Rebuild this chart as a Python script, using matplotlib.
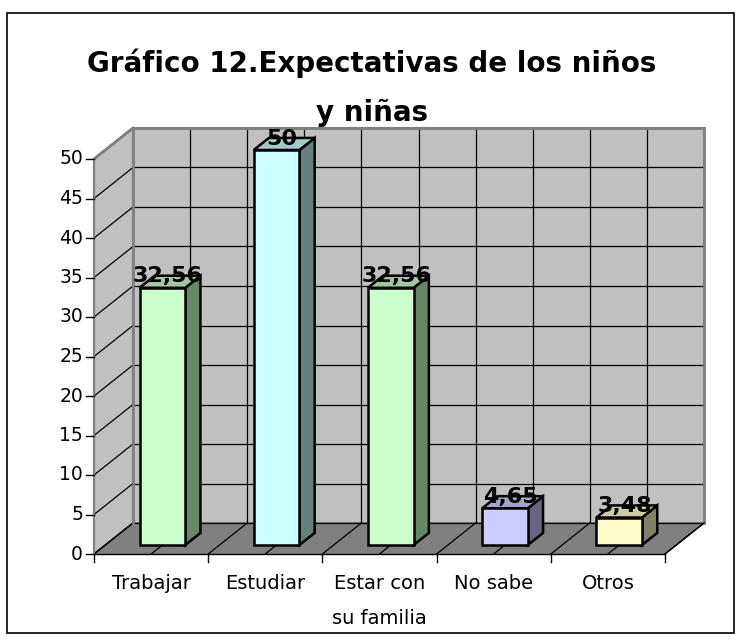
import matplotlib
matplotlib.use("Agg")
import matplotlib.pyplot as plt
from matplotlib.patches import Polygon, Rectangle
import numpy as np

categories = ["Trabajar", "Estudiar", "Estar con\nsu familia", "No sabe", "Otros"]
values = [32.56, 50, 32.56, 4.65, 3.48]
value_labels = ["32,56", "50", "32,56", "4,65", "3,48"]
front_colors = ["#CCFFCC", "#CCFFFF", "#CCFFCC", "#CCCCFF", "#FFFFCC"]
top_colors = ["#A3C6A3", "#A3C9C9", "#A3C6A3", "#A3A3CC", "#CCCCA3"]
side_colors = ["#668866", "#668080", "#668866", "#666680", "#808066"]
yticks = np.arange(0, 55, 5)

# pixel scale of the plot box
W, H = 741, 640
x0_px, y0_px = 94, 554          # front origin
ux, uy = 114.2, 7.9             # px per category / per value unit
ddx, ddy = 39 / ux, 31 / uy     # depth offset in data units
ymax = 50
ncat = len(categories)

fig = plt.figure(figsize=(W / 100, H / 100), dpi=100)
ax = fig.add_axes([0, 0, 1, 1])
ax.set_xlim(-x0_px / ux, (W - x0_px) / ux)
ax.set_ylim(-(H - y0_px) / uy, y0_px / uy)
ax.axis("off")

wall = "#C0C0C0"
edge = "#808080"

# side wall, back wall, floor
ax.add_patch(Polygon([(0, 0), (ddx, ddy), (ddx, ymax + ddy), (0, ymax)],
                     closed=True, fc=wall, ec=edge, lw=1.5, zorder=1))
ax.add_patch(Polygon([(ddx, ddy), (ncat + ddx, ddy), (ncat + ddx, ymax + ddy), (ddx, ymax + ddy)],
                     closed=True, fc=wall, ec=edge, lw=1.5, zorder=1))
ax.add_patch(Polygon([(0, 0), (ncat, 0), (ncat + ddx, ddy), (ddx, ddy)],
                     closed=True, fc="#808080", ec="none", zorder=1))

# gridlines
for v in yticks:
    ax.plot([ddx, ncat + ddx], [v + ddy, v + ddy], color="black", lw=0.9, zorder=2)
    ax.plot([0, ddx], [v, v + ddy], color="black", lw=0.9, zorder=2)
for k in range(1, 2 * ncat):
    xx = 0.5 * k
    ax.plot([xx + ddx, xx + ddx], [ddy, ymax + ddy], color="black", lw=0.9, zorder=2)
for k in range(0, 2 * ncat + 1):
    xx = 0.5 * k
    ax.plot([xx, xx + ddx], [0, ddy], color="black", lw=0.9, zorder=2)
# wall edges on top of grid
ax.plot([ddx, ddx], [ddy, ymax + ddy], color=edge, lw=2, zorder=2.5)
ax.plot([ncat + ddx] * 2, [ddy, ymax + ddy], color=edge, lw=2, zorder=2.5)
ax.plot([ddx, ncat + ddx], [ymax + ddy] * 2, color=edge, lw=2, zorder=2.5)
ax.plot([0, ddx], [ymax, ymax + ddy], color=edge, lw=2, zorder=2.5)

# axes lines and ticks
ax.plot([0, 0], [0, ymax], color=edge, lw=1.5, zorder=3)
ax.plot([0, ncat], [0, 0], color="black", lw=1, zorder=3)
ax.plot([ncat, ncat + ddx], [0, ddy], color="black", lw=1, zorder=3)
tick_len_x = 8 / ux
tick_len_y = 8 / uy
for v in yticks:
    ax.plot([-tick_len_x, 0], [v, v], color="black", lw=1, zorder=3)
    ax.text(-11 / ux, v, str(v), ha="right", va="center", fontsize=13.5, color="black")
for k in range(ncat + 1):
    ax.plot([k, k], [0, -tick_len_y], color="black", lw=1, zorder=3)
for i, cat in enumerate(categories):
    ax.text(i + 0.5, -20 / uy, cat, ha="center", va="top", fontsize=14,
            linespacing=2.1, color="black")

# bars
bw = 0.4
f0, f1 = 0.29, 0.68
for i, v in enumerate(values):
    xl = i + 0.5 - bw / 2 + f0 * ddx
    xr = xl + bw
    yb = f0 * ddy
    dx = (f1 - f0) * ddx
    dy = (f1 - f0) * ddy
    front = [(xl, yb), (xr, yb), (xr, yb + v), (xl, yb + v)]
    side = [(xr, yb), (xr + dx, yb + dy), (xr + dx, yb + v + dy), (xr, yb + v)]
    top = [(xl, yb + v), (xr, yb + v), (xr + dx, yb + v + dy), (xl + dx, yb + v + dy)]
    ax.add_patch(Polygon(side, closed=True, fc=side_colors[i], ec="black", lw=1.8, zorder=4))
    ax.add_patch(Polygon(top, closed=True, fc=top_colors[i], ec="black", lw=1.8, zorder=4))
    ax.add_patch(Polygon(front, closed=True, fc=front_colors[i], ec="black", lw=1.8, zorder=4))
    ax.text(xl + bw / 2 + dx / 2 - 0.02, yb + v + dy - 0.1, value_labels[i],
            ha="center", va="center", fontsize=16, fontweight="bold", color="black", zorder=5)

# title
fig.text(372 / W, 1 - 88 / H, "Gráfico 12.Expectativas de los niños\ny niñas",
         ha="center", va="center", fontsize=20, fontweight="bold", linespacing=1.95)

# outer frame
fig.add_artist(Rectangle((7 / W, 1 - 633 / H), 727 / W, 620 / H, transform=fig.transFigure,
                         fill=False, ec="black", lw=1.2))

fig.savefig("out.png", dpi=100)
